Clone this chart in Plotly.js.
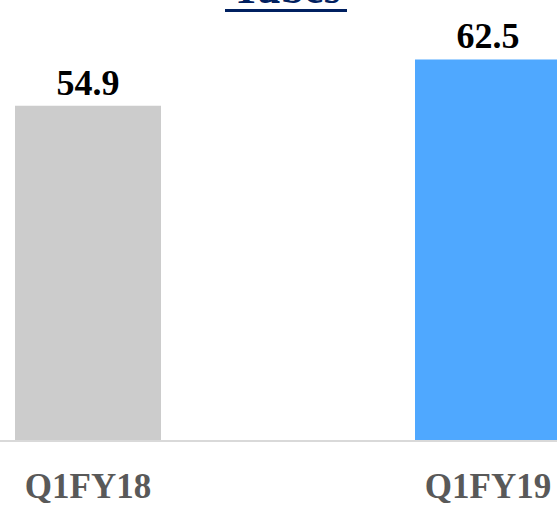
<!DOCTYPE html>
<html>
<head>
<meta charset="utf-8">
<script src="https://cdn.plot.ly/plotly-3.0.1.min.js"></script>
<style>html,body{margin:0;padding:0;background:#fff;}#chart{width:557px;height:505px;}</style>
</head>
<body>
<div id="chart"></div>
<script>
const categories = ["Q1FY18", "Q1FY19"];
const values = [54.9, 62.5];
const valueLabels = ["54.9", "62.5"];
const barColors = ["#cccccc", "#4fa8ff"];
const chartTitle = "Tubes";

const trace = {
  type: "bar",
  x: categories,
  y: values,
  text: valueLabels,
  textposition: "outside",
  cliponaxis: false,
  textfont: {family: "Liberation Serif", size: 36, color: "#000000", weight: "bold"},
  marker: {color: barColors},
  width: 0.365,
  hoverinfo: "none"
};

const plotH = 440;
const layout = {
  width: 557,
  height: 505,
  margin: {l: 0, r: 0, t: 0, b: 65, pad: 0},
  paper_bgcolor: "#ffffff",
  plot_bgcolor: "#ffffff",
  showlegend: false,
  xaxis: {
    type: "category",
    range: [-0.22, 1.1725],
    showline: true,
    linecolor: "#d9d9d9",
    linewidth: 2,
    showgrid: false,
    zeroline: false,
    ticks: "",
    ticklen: 0,
    ticklabelstandoff: 14,
    tickfont: {family: "Liberation Serif", size: 35, color: "#595959", weight: "bold"},
    fixedrange: true
  },
  yaxis: {
    range: [0, 72.25],
    visible: false,
    showgrid: false,
    zeroline: false,
    fixedrange: true
  },
  annotations: [{
    text: "<b>" + chartTitle + "</b>",
    xref: "paper", yref: "paper",
    x: 0.5135, y: 1 - 14 / plotH,
    xanchor: "center", yanchor: "bottom",
    showarrow: false,
    font: {family: "Liberation Serif", size: 43, color: "#002060"}
  }],
  shapes: [{
    type: "line",
    xref: "paper", yref: "paper",
    x0: 225 / 557, x1: 347 / 557,
    y0: 1 - 10.5 / plotH, y1: 1 - 10.5 / plotH,
    line: {color: "#002060", width: 3}
  }]
};

Plotly.newPlot("chart", [trace], layout, {displayModeBar: false, staticPlot: true});
</script>
</body>
</html>
